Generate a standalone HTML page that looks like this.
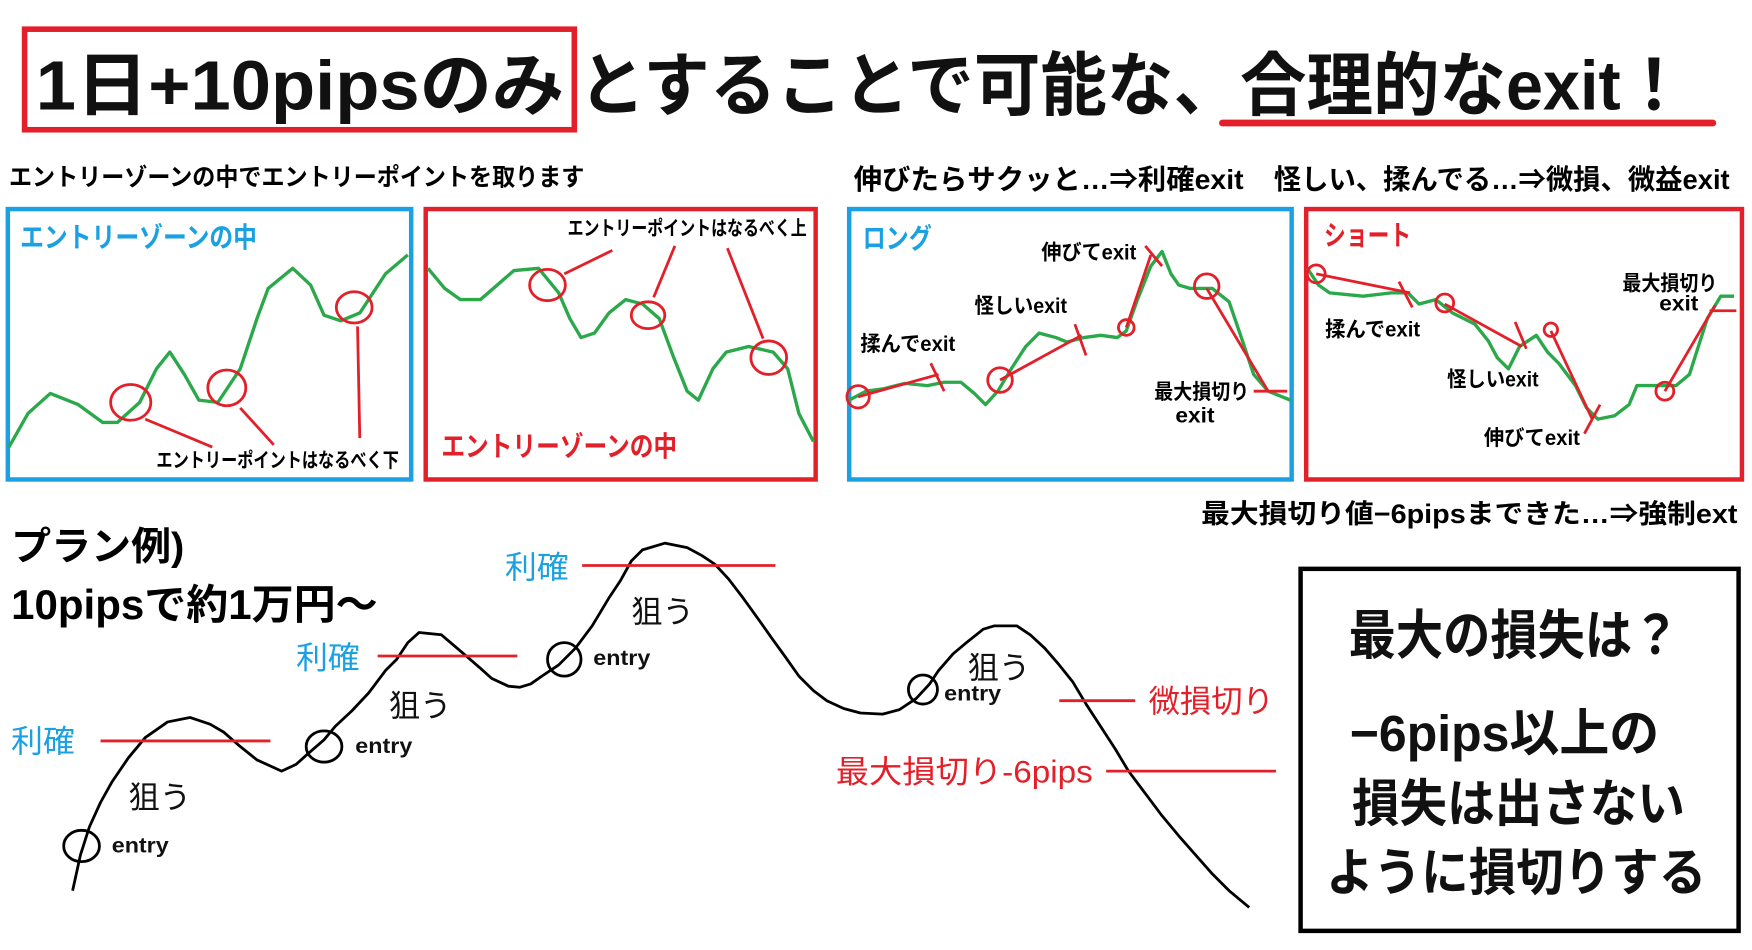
<!DOCTYPE html>
<html><head><meta charset="utf-8">
<style>
html,body{margin:0;padding:0;background:#fff;}
svg{display:block;}
text{font-family:"Liberation Sans","Noto Sans CJK JP",sans-serif;}
.b{font-weight:bold;}
.g{fill:none;stroke:#2aa84a;stroke-width:3;stroke-linejoin:round;}
.r{fill:none;stroke:#e3202a;stroke-width:2.5;}
.k{fill:none;stroke:#000;stroke-width:2.5;stroke-linejoin:round;}
</style></head><body>
<svg width="1752" height="950" viewBox="0 0 1568 850" xmlns="http://www.w3.org/2000/svg">
<rect width="1568" height="850" fill="#fff"/>
<rect x="22" y="26" width="492" height="90" fill="none" stroke="#e3202a" stroke-width="5"/>
<text x="32" y="98" class="b" font-size="62" fill="#111" textLength="473" lengthAdjust="spacingAndGlyphs">1日+10pipsのみ</text>
<text x="518" y="98" class="b" font-size="62" fill="#111" textLength="992" lengthAdjust="spacingAndGlyphs">とすることで可能な、合理的なexit！</text>
<line x1="1094" y1="110" x2="1533" y2="110" stroke="#e3202a" stroke-width="6" stroke-linecap="round"/>
<text x="8" y="166" class="b" font-size="22" textLength="515" lengthAdjust="spacingAndGlyphs">エントリーゾーンの中でエントリーポイントを取ります</text>
<text x="764" y="169" class="b" font-size="25" textLength="349" lengthAdjust="spacingAndGlyphs">伸びたらサクッと…⇒利確exit</text>
<text x="1140" y="169" class="b" font-size="25" textLength="408" lengthAdjust="spacingAndGlyphs">怪しい、揉んでる…⇒微損、微益exit</text>
<rect x="7" y="187" width="361" height="242" fill="none" stroke="#1ba1e2" stroke-width="4"/>
<rect x="381" y="187" width="349" height="242" fill="none" stroke="#e3202a" stroke-width="4"/>
<rect x="760" y="187" width="396" height="242" fill="none" stroke="#1ba1e2" stroke-width="4"/>
<rect x="1169" y="187" width="390" height="242" fill="none" stroke="#e3202a" stroke-width="4"/>
<text x="18" y="221" class="b" font-size="25" fill="#1ba1e2" textLength="212" lengthAdjust="spacingAndGlyphs">エントリーゾーンの中</text>
<polyline class="g" points="8,400 25,370 45,352 70,362 92,378 105,378 125,360 140,330 152,315 165,335 178,358 195,360 215,330 230,285 240,258 262,240 278,255 290,282 305,287 322,280 345,245 365,228"/>
<ellipse cx="117" cy="360" rx="18" ry="16" class="r" stroke-width="3"/>
<ellipse cx="203" cy="347" rx="17" ry="16" class="r" stroke-width="3"/>
<ellipse cx="317" cy="275" rx="16" ry="14" class="r" stroke-width="3"/>
<line x1="130" y1="375" x2="190" y2="400" class="r"/>
<line x1="215" y1="365" x2="245" y2="398" class="r"/>
<line x1="320" y1="292" x2="322" y2="392" class="r"/>
<text x="140" y="418" font-size="18" class="b" textLength="217" lengthAdjust="spacingAndGlyphs">エントリーポイントはなるべく下</text>
<polyline class="g" points="383,240 398,258 412,268 430,268 445,255 460,242 482,240 500,262 510,285 520,302 532,298 545,280 560,268 575,272 590,285 603,320 615,350 625,358 638,330 650,315 670,310 692,315 705,330 715,370 728,395"/>
<ellipse cx="490" cy="255" rx="16" ry="14" class="r" stroke-width="3"/>
<ellipse cx="580" cy="282" rx="15" ry="12" class="r" stroke-width="3"/>
<ellipse cx="688" cy="320" rx="16" ry="15" class="r" stroke-width="3"/>
<line x1="505" y1="245" x2="548" y2="224" class="r"/>
<line x1="585" y1="266" x2="604" y2="220" class="r"/>
<line x1="683" y1="303" x2="651" y2="222" class="r"/>
<text x="508" y="210" font-size="18" class="b" textLength="214" lengthAdjust="spacingAndGlyphs">エントリーポイントはなるべく上</text>
<text x="395" y="408" class="b" font-size="25" fill="#e3202a" textLength="211" lengthAdjust="spacingAndGlyphs">エントリーゾーンの中</text>
<text x="772" y="222" class="b" font-size="25" fill="#1ba1e2" textLength="62" lengthAdjust="spacingAndGlyphs">ロング</text>
<polyline class="g" points="760,358 775,350 790,348 810,343 830,345 845,342 860,342 872,352 882,362 893,350 905,330 918,310 930,298 945,302 955,306 970,302 985,300 1000,302 1008,296 1018,268 1030,238 1040,225 1048,245 1055,255 1065,258 1085,258 1100,270 1112,305 1122,335 1135,350 1155,358"/>
<line x1="768" y1="355" x2="840" y2="335" class="r"/>
<line x1="833" y1="325" x2="845" y2="350" class="r" stroke-width="3"/>
<line x1="895" y1="340" x2="968" y2="300" class="r"/>
<line x1="962" y1="290" x2="972" y2="318" class="r" stroke-width="3"/>
<line x1="1008" y1="293" x2="1030" y2="228" class="r"/>
<line x1="1025" y1="220" x2="1040" y2="238" class="r" stroke-width="3"/>
<line x1="1080" y1="258" x2="1135" y2="350" class="r"/>
<line x1="1122" y1="350" x2="1152" y2="350" class="r" stroke-width="3"/>
<circle cx="768" cy="355" r="10" class="r" stroke-width="3"/>
<circle cx="895" cy="340" r="11" class="r" stroke-width="3"/>
<circle cx="1008" cy="293" r="7" class="r"/>
<circle cx="1080" cy="256" r="11" class="r" stroke-width="3"/>
<g font-size="19" class="b">
<text x="770" y="314" textLength="85" lengthAdjust="spacingAndGlyphs">揉んでexit</text>
<text x="872" y="280" textLength="83" lengthAdjust="spacingAndGlyphs">怪しいexit</text>
<text x="932" y="232" textLength="85" lengthAdjust="spacingAndGlyphs">伸びてexit</text>
<text x="1033" y="357" textLength="85" lengthAdjust="spacingAndGlyphs">最大損切り</text>
<text x="1052" y="378" textLength="35" lengthAdjust="spacingAndGlyphs">exit</text>
</g>
<text x="1185" y="219" class="b" font-size="25" fill="#e3202a" textLength="78" lengthAdjust="spacingAndGlyphs">ショート</text>
<polyline class="g" points="1170,240 1180,255 1190,262 1220,265 1245,262 1260,262 1270,272 1285,268 1300,280 1320,290 1332,305 1340,320 1350,330 1360,310 1375,300 1385,315 1395,325 1410,345 1420,365 1430,375 1445,372 1458,362 1465,345 1485,345 1500,345 1512,335 1520,310 1528,285 1540,265 1552,265"/>
<line x1="1178" y1="245" x2="1262" y2="262" class="r"/>
<line x1="1252" y1="252" x2="1264" y2="275" class="r" stroke-width="3"/>
<line x1="1293" y1="272" x2="1362" y2="310" class="r"/>
<line x1="1356" y1="288" x2="1366" y2="312" class="r" stroke-width="3"/>
<line x1="1388" y1="296" x2="1425" y2="375" class="r"/>
<line x1="1418" y1="388" x2="1432" y2="362" class="r" stroke-width="3"/>
<line x1="1490" y1="350" x2="1535" y2="273" class="r"/>
<line x1="1530" y1="278" x2="1554" y2="278" class="r" stroke-width="3"/>
<circle cx="1178" cy="245" r="8" class="r" stroke-width="3"/>
<circle cx="1293" cy="271" r="8" class="r" stroke-width="3"/>
<circle cx="1388" cy="295" r="6" class="r"/>
<circle cx="1490" cy="350" r="8" class="r" stroke-width="3"/>
<g font-size="19" class="b">
<text x="1186" y="301" textLength="85" lengthAdjust="spacingAndGlyphs">揉んでexit</text>
<text x="1295" y="346" textLength="82" lengthAdjust="spacingAndGlyphs">怪しいexit</text>
<text x="1328" y="398" textLength="86" lengthAdjust="spacingAndGlyphs">伸びてexit</text>
<text x="1452" y="260" textLength="85" lengthAdjust="spacingAndGlyphs">最大損切り</text>
<text x="1485" y="278" textLength="35" lengthAdjust="spacingAndGlyphs">exit</text>
</g>
<text x="1075" y="468" class="b" font-size="24" textLength="480" lengthAdjust="spacingAndGlyphs">最大損切り値−6pipsまできた…⇒強制ext</text>
<text x="10" y="501" class="b" font-size="35" textLength="155" lengthAdjust="spacingAndGlyphs">プラン例)</text>
<text x="10" y="554" class="b" font-size="37" textLength="328" lengthAdjust="spacingAndGlyphs">10pipsで約1万円〜</text>
<polyline class="k" points="65,797 72,765 80,740 90,718 100,700 115,678 130,660 150,646 170,642 188,648 200,655 215,668 230,680 252,690 265,684 275,675 290,662 300,650 315,636 330,620 345,600 355,590 365,575 375,566 395,568 415,585 430,598 440,607 455,614 465,615 475,612 485,605 500,595 515,580 530,560 545,535 555,520 565,502 575,492 595,486 615,490 628,497 640,505 652,518 665,535 678,553 690,570 703,588 715,605 728,618 740,627 755,634 770,638 790,639 805,635 820,625 832,612 840,600 853,585 865,575 880,563 890,560 910,560 922,568 935,580 948,595 960,610 972,630 985,650 998,670 1010,690 1025,710 1040,730 1055,748 1070,765 1085,782 1100,797 1118,812"/>
<ellipse cx="73" cy="757" rx="16" ry="14" class="k"/>
<ellipse cx="290" cy="668" rx="16" ry="14" class="k"/>
<ellipse cx="505" cy="590" rx="15" ry="15" class="k"/>
<ellipse cx="826" cy="617" rx="13" ry="13" class="k"/>
<line x1="90" y1="663" x2="242" y2="663" class="r"/>
<line x1="338" y1="587" x2="463" y2="587" class="r"/>
<line x1="521" y1="506" x2="694" y2="506" class="r"/>
<line x1="948" y1="627" x2="1016" y2="627" class="r"/>
<line x1="990" y1="690" x2="1142" y2="690" class="r"/>
<g font-size="28" fill="#1ba1e2">
<text x="10" y="673" textLength="57" lengthAdjust="spacingAndGlyphs">利確</text><text x="265" y="598" textLength="57" lengthAdjust="spacingAndGlyphs">利確</text><text x="452" y="517" textLength="57" lengthAdjust="spacingAndGlyphs">利確</text>
</g>
<g font-size="28" fill="#111">
<text x="115" y="723">狙う</text><text x="348" y="641">狙う</text><text x="565" y="557">狙う</text><text x="866" y="607">狙う</text>
</g>
<g font-size="19" class="b" fill="#111">
<text x="100" y="763" textLength="51" lengthAdjust="spacingAndGlyphs">entry</text><text x="318" y="674" textLength="51" lengthAdjust="spacingAndGlyphs">entry</text><text x="531" y="595" textLength="51" lengthAdjust="spacingAndGlyphs">entry</text><text x="845" y="627" textLength="51" lengthAdjust="spacingAndGlyphs">entry</text>
</g>
<text x="1028" y="637" font-size="28" fill="#e3202a" textLength="112" lengthAdjust="spacingAndGlyphs">微損切り</text>
<text x="748" y="700" font-size="28" fill="#e3202a" textLength="230" lengthAdjust="spacingAndGlyphs">最大損切り-6pips</text>
<rect x="1164" y="509" width="392" height="324" fill="none" stroke="#000" stroke-width="4"/>
<g class="b" fill="#111">
<text x="1207" y="585" font-size="48" textLength="296" lengthAdjust="spacingAndGlyphs">最大の損失は？</text>
<text x="1208" y="672" font-size="46" textLength="277" lengthAdjust="spacingAndGlyphs">−6pips以上の</text>
<text x="1210" y="735" font-size="46" textLength="298" lengthAdjust="spacingAndGlyphs">損失は出さない</text>
<text x="1187" y="797" font-size="46" textLength="340" lengthAdjust="spacingAndGlyphs">ように損切りする</text>
</g>
</svg>
</body></html>
